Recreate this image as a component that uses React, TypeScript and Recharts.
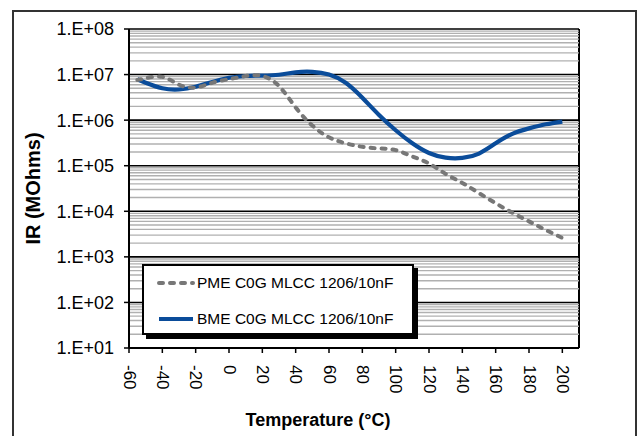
import React from 'react';
import { LineChart, Line, XAxis, YAxis, CartesianGrid, Legend, Label, ReferenceLine } from 'recharts';

const FONT = '"Liberation Sans", Arial, Helvetica, sans-serif';

const temperatures = [-55, -50, -40, -30, -20, -10, 0, 10, 20, 30, 40, 50, 60, 70, 80, 90, 100, 110, 120, 130, 140, 150, 160, 170, 180, 190, 200];
const pmeValues = [7.6e6, 8.3e6, 8.9e6, 6.0e6, 5.2e6, 6.6e6, 7.9e6, 9.3e6, 9.3e6, 5.6e6, 1.9e6, 7.6e5, 4.2e5, 3.1e5, 2.6e5, 2.4e5, 2.2e5, 1.6e5, 1.12e5, 6.6e4, 4.2e4, 2.5e4, 1.5e4, 9.3e3, 6.0e3, 3.9e3, 2.6e3];
const bmeValues = [7.9e6, 6.6e6, 5.0e6, 4.7e6, 5.4e6, 6.9e6, 8.5e6, 9.3e6, 9.5e6, 9.9e6, 1.12e7, 1.15e7, 1.0e7, 6.6e6, 3.1e6, 1.3e6, 6.0e5, 3.1e5, 1.9e5, 1.5e5, 1.48e5, 1.85e5, 3.1e5, 5.0e5, 6.6e5, 8.1e5, 9.3e5];

const seriesNames = ['PME C0G MLCC 1206/10nF', 'BME C0G MLCC 1206/10nF'];
const seriesColors = ['#777777', '#0A4C9A'];
const seriesDash = ['4 7', undefined];

const xTicks = [-60, -40, -20, 0, 20, 40, 60, 80, 100, 120, 140, 160, 180, 200];
const xDomain = [-60, 210];
const yTicks = [1e1, 1e2, 1e3, 1e4, 1e5, 1e6, 1e7, 1e8];
const minorMultipliers = [2, 3, 4, 5, 6, 7, 8, 9];

const minorGrid: number[] = [];
yTicks.slice(0, -1).forEach((d) => minorMultipliers.forEach((m) => minorGrid.push(d * m)));

const data = temperatures.map((t, i) => ({ t, pme: pmeValues[i], bme: bmeValues[i] }));

const fmtY = (v: number) => {
  const e = Math.round(Math.log10(v));
  return '1.E+' + String(e).padStart(2, '0');
};

const XTick = (props: any) => {
  const { x, y, payload } = props;
  return (
    <text
      x={x}
      y={y}
      transform={`rotate(90 ${x} ${y})`}
      textAnchor="start"
      dominantBaseline="central"
      fontSize={17}
      fontFamily={FONT}
      fill="#000"
    >
      {payload.value}
    </text>
  );
};

const renderLegend = () => (
  <div
    style={{
      width: 272,
      height: 71,
      boxSizing: 'border-box',
      border: '2px solid #000',
      background: '#fff',
      boxShadow: '4px 4px 0 #000',
      fontFamily: FONT,
      fontSize: 15.5,
      position: 'relative',
      color: '#000',
    }}
  >
    {seriesNames.map((name, i) => (
      <div
        key={name}
        style={{ position: 'absolute', left: 13, top: 7 + i * 36, height: 20, display: 'flex', alignItems: 'center', whiteSpace: 'nowrap' }}
      >
        <svg width={38} height={8} style={{ display: 'block' }}>
          <line x1={2} y1={4} x2={36} y2={4} stroke={seriesColors[i]} strokeWidth={4} strokeDasharray={seriesDash[i]} strokeLinecap={seriesDash[i] ? 'round' : 'butt'} />
        </svg>
        <span style={{ marginLeft: 2 }}>{name}</span>
      </div>
    ))}
  </div>
);

export default function App() {
  return (
    <div style={{ position: 'absolute', left: 0, top: 0, width: 641, height: 436, background: '#fff', overflow: 'hidden' }}>
      <LineChart width={641} height={436} data={data} margin={{ top: 29, right: 62, left: 0, bottom: 0 }}>
        <CartesianGrid vertical={false} horizontalValues={yTicks} stroke="#000" strokeWidth={1.6} />
        <CartesianGrid horizontal={false} verticalValues={[xDomain[1]]} stroke="#000" strokeWidth={2} />
        {minorGrid.map((v) => (
          <ReferenceLine key={v} y={v} stroke="#b0b0b0" strokeWidth={1.4} ifOverflow="hidden" />
        ))}
        <XAxis
          dataKey="t"
          type="number"
          domain={xDomain}
          ticks={xTicks}
          allowDataOverflow
          height={88}
          tickSize={5}
          tickMargin={12}
          tick={<XTick />}
          tickLine={{ stroke: '#000', strokeWidth: 1.5 }}
          axisLine={{ stroke: '#000', strokeWidth: 2 }}
        >
          <Label
            content={(p: any) => (
              <text x={318} y={p.viewBox.y + 78} textAnchor="middle" fontSize={18} fontWeight="bold" fontFamily={FONT} fill="#000">
                Temperature (°C)
              </text>
            )}
          />
        </XAxis>
        <YAxis
          type="number"
          scale="log"
          domain={[yTicks[0], yTicks[yTicks.length - 1]]}
          ticks={yTicks}
          allowDataOverflow
          width={129}
          tickSize={5}
          tickMargin={10}
          tickFormatter={fmtY}
          tick={{ fill: '#000', fontSize: 18, fontFamily: FONT }}
          tickLine={{ stroke: '#000', strokeWidth: 1.5 }}
          axisLine={{ stroke: '#000', strokeWidth: 2 }}
        >
          <Label
            content={(p: any) => {
              const cx = 33;
              const cy = p.viewBox.y + p.viewBox.height / 2;
              return (
                <text x={cx} y={cy} transform={`rotate(-90 ${cx} ${cy})`} textAnchor="middle" dominantBaseline="central" fontSize={20} fontWeight="bold" fontFamily={FONT} fill="#000">
                  IR (MOhms)
                </text>
              );
            }}
          />
        </YAxis>
        <Legend
          layout="horizontal"
          verticalAlign="middle"
          align="center"
          content={renderLegend}
          wrapperStyle={{ left: 142, top: 264, width: 272, height: 71 }}
        />
        <Line
          dataKey="bme"
          name={seriesNames[1]}
          type="natural"
          stroke={seriesColors[1]}
          strokeWidth={4.2}
          dot={false}
          activeDot={false}
          isAnimationActive={false}
        />
        <Line
          dataKey="pme"
          name={seriesNames[0]}
          type="natural"
          stroke={seriesColors[0]}
          strokeWidth={4}
          strokeDasharray={seriesDash[0]}
          strokeLinecap="round"
          dot={false}
          activeDot={false}
          isAnimationActive={false}
        />
      </LineChart>
      <div
        style={{
          position: 'absolute',
          left: 12,
          top: 10,
          width: 625,
          height: 460,
          boxSizing: 'border-box',
          border: '2px solid #333',
          pointerEvents: 'none',
        }}
      />
    </div>
  );
}
